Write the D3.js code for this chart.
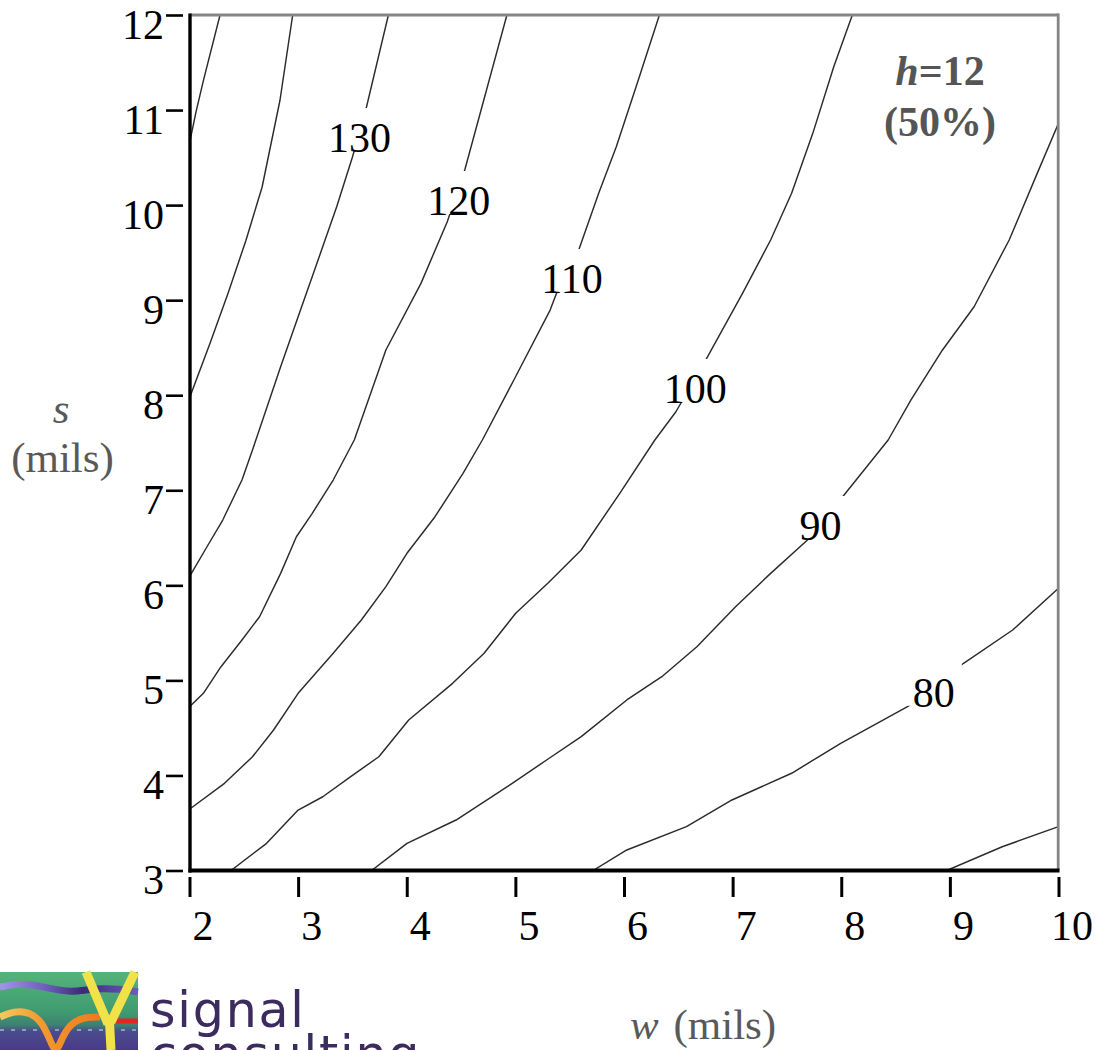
<!DOCTYPE html>
<html>
<head>
<meta charset="utf-8">
<script src="https://cdn.jsdelivr.net/npm/d3@7"></script>
<style>
  html, body { margin: 0; padding: 0; background: #fff; }
  svg { display: block; }
</style>
</head>
<body>
<svg id="chart" width="1096" height="1050"></svg>
<script>
// ---- axis ticks -------------------------------------------------------
const wTicks = [2, 3, 4, 5, 6, 7, 8, 9, 10];
const sTicks = [3, 4, 5, 6, 7, 8, 9, 10, 11, 12];

// ---- impedance contour levels (ohms) ------------------------------------
const levels = [150, 140, 130, 120, 110, 100, 90, 80, 70];

// each contour traced as [w, s] pairs in mils
const z150 = [[2.000, 10.650], [2.060, 10.980], [2.130, 11.320], [2.281, 12.000]];
const z140 = [[2.000, 7.971], [2.189, 8.547], [2.355, 9.073], [2.520, 9.630],
              [2.668, 10.188], [2.833, 11.103], [2.950, 12.000]];
const z130 = [[2.000, 6.091], [2.161, 6.406], [2.306, 6.687], [2.483, 7.108],
              [2.580, 7.424], [2.839, 8.300], [3.000, 8.826], [3.162, 9.352],
              [3.355, 9.983], [3.501, 10.509], [3.630, 11.035], [3.831, 12.000]];
const z120 = [[2.000, 4.723], [2.128, 4.864], [2.290, 5.144], [2.483, 5.425],
              [2.645, 5.670], [2.839, 6.126], [2.984, 6.511], [3.130, 6.758],
              [3.323, 7.108], [3.517, 7.529], [3.808, 8.476], [4.131, 9.177],
              [4.373, 9.825], [4.534, 10.369], [4.922, 12.000]];
const z110 = [[2.000, 3.644], [2.322, 3.917], [2.580, 4.197], [2.774, 4.478],
              [3.000, 4.864], [3.323, 5.285], [3.582, 5.635], [3.808, 5.986],
              [4.002, 6.337], [4.260, 6.722], [4.518, 7.178], [4.696, 7.529],
              [4.986, 8.160], [5.320, 8.896], [5.379, 9.072], [5.589, 9.545],
              [5.767, 10.124], [5.929, 10.614], [6.122, 11.281], [6.326, 12.000]];
const z100 = [[2.382, 3.000], [2.710, 3.286], [3.000, 3.636], [3.227, 3.776],
              [3.484, 3.987], [3.743, 4.197], [4.018, 4.583], [4.422, 4.969],
              [4.712, 5.285], [5.003, 5.706], [5.301, 6.024], [5.606, 6.372],
              [5.961, 6.968], [6.284, 7.529], [6.478, 7.826], [6.752, 8.370],
              [7.091, 9.072], [7.350, 9.633], [7.543, 10.124], [7.738, 10.755],
              [7.931, 11.456], [8.102, 12.000]];
const z90 = [[3.676, 3.000], [4.002, 3.286], [4.454, 3.531], [4.971, 3.917],
             [5.301, 4.173], [5.606, 4.408], [6.026, 4.794], [6.348, 5.039],
             [6.671, 5.354], [7.027, 5.775], [7.350, 6.126], [7.689, 6.477],
             [7.989, 6.898], [8.432, 7.529], [8.642, 7.950], [8.932, 8.476],
             [9.223, 8.931], [9.546, 9.633], [9.804, 10.334], [10.000, 10.860]];
const z80 = [[5.715, 3.000], [6.026, 3.216], [6.575, 3.461], [6.994, 3.742],
             [7.543, 4.023], [7.995, 4.338], [8.610, 4.723], [9.126, 5.180],
             [9.578, 5.530], [10.000, 5.969]];
const z70 = [[8.971, 3.000], [9.482, 3.250], [10.000, 3.461]];

const contourPaths = [z150, z140, z130, z120, z110, z100, z90, z80, z70];

// inline level labels and where they sit along their contour
const labelLevels = [130, 120, 110, 100, 90, 80];
const labelW = [3.565, 4.478, 5.522, 6.655, 7.810, 8.852];
const labelS = [10.558, 9.896, 9.075, 7.918, 6.477, 4.723];

// ---- drawing --------------------------------------------------------------
const W = 1096, H = 1050;
const serif = '"Liberation Serif", "Times New Roman", Times, serif';
const svg = d3.select('#chart');

const x = d3.scaleLinear().domain([2, 10]).range([189.5, 1058.5]);
const y = d3.scaleLinear().domain([3, 12]).range([870.5, 15]);

const defs = svg.append('defs');
defs.append('clipPath').attr('id', 'plotClip')
  .append('rect')
  .attr('x', x(2)).attr('y', y(12))
  .attr('width', x(10) - x(2)).attr('height', y(3) - y(12));

const gapMask = defs.append('mask').attr('id', 'labelGaps')
  .attr('maskUnits', 'userSpaceOnUse')
  .attr('x', 0).attr('y', 0).attr('width', W).attr('height', H);
gapMask.append('rect').attr('width', W).attr('height', H).attr('fill', 'white');

// contour lines
const line = d3.line().x(d => x(d[0])).y(d => y(d[1])).curve(d3.curveLinear);
svg.append('g')
  .attr('clip-path', 'url(#plotClip)')
  .append('g')
  .attr('mask', 'url(#labelGaps)')
  .selectAll('path')
  .data(contourPaths.map((pts, i) => ({ level: levels[i], pts })))
  .join('path')
  .attr('d', d => line(d.pts))
  .attr('fill', 'none')
  .attr('stroke', '#2b2b2b')
  .attr('stroke-width', 1.45)
  .attr('stroke-linejoin', 'round');

// level labels, with the contour broken underneath each one
const labelData = labelLevels.map((lv, i) => ({ lv, w: labelW[i], s: labelS[i] }));
const labels = svg.append('g').selectAll('text')
  .data(labelData)
  .join('text')
  .attr('x', d => x(d.w))
  .attr('y', d => y(d.s))
  .attr('text-anchor', 'middle')
  .attr('font-family', serif)
  .attr('font-size', 42)
  .attr('fill', '#000')
  .text(d => d.lv);

labels.each(function (d) {
  const len = this.getComputedTextLength();
  const cx = x(d.w), base = y(d.s);
  gapMask.append('rect')
    .attr('x', cx - len / 2 - 7)
    .attr('y', base - 44)
    .attr('width', len + 14)
    .attr('height', 43)
    .attr('fill', 'black');
});

// frame: heavy black on the axis sides, grey on the far sides
const frame = svg.append('g');
frame.append('line')
  .attr('x1', x(2)).attr('x2', x(10)).attr('y1', y(12)).attr('y2', y(12))
  .attr('stroke', '#858585').attr('stroke-width', 2.8);
frame.append('line')
  .attr('x1', x(10) - 0.3).attr('x2', x(10) - 0.3).attr('y1', y(12) - 1.4).attr('y2', y(3))
  .attr('stroke', '#858585').attr('stroke-width', 2.8);
frame.append('line')
  .attr('x1', x(2) + 0.5).attr('x2', x(2) + 0.5).attr('y1', y(12) - 1.4).attr('y2', y(3) + 2)
  .attr('stroke', '#000').attr('stroke-width', 3.4);
frame.append('line')
  .attr('x1', x(2) - 1).attr('x2', x(10) + 1).attr('y1', y(3)).attr('y2', y(3))
  .attr('stroke', '#000').attr('stroke-width', 4);

// x axis
const xAxis = svg.append('g')
  .attr('transform', 'translate(0,877)')
  .call(d3.axisBottom(x).tickValues(wTicks).tickSize(20).tickFormat(d3.format('d')));
xAxis.select('.domain').remove();
xAxis.selectAll('.tick line').attr('stroke', '#000').attr('stroke-width', 3);
xAxis.selectAll('.tick text')
  .attr('y', 63).attr('dy', 0).attr('dx', 13)
  .attr('font-family', serif).attr('font-size', 42).attr('fill', '#000');

// y axis
const yAxis = svg.append('g')
  .attr('transform', 'translate(183,0)')
  .call(d3.axisLeft(y).tickValues(sTicks).tickSize(17).tickFormat(d3.format('d')));
yAxis.select('.domain').remove();
yAxis.selectAll('.tick line').attr('stroke', '#000').attr('stroke-width', 2.6);
yAxis.selectAll('.tick text')
  .attr('x', -19).attr('y', 23).attr('dy', 0)
  .attr('text-anchor', 'end')
  .attr('font-family', serif).attr('font-size', 42).attr('fill', '#000');

// axis titles
const titleGrey = '#595959';
svg.append('text')
  .attr('x', 61).attr('y', 422.5)
  .attr('text-anchor', 'middle')
  .attr('font-family', serif).attr('font-size', 43).attr('font-style', 'italic')
  .attr('fill', titleGrey).text('s');
svg.append('text')
  .attr('x', 62.5).attr('y', 471.5)
  .attr('text-anchor', 'middle')
  .attr('font-family', serif).attr('font-size', 43)
  .attr('fill', titleGrey).text('(mils)');

const wTitle = svg.append('text')
  .attr('x', 630).attr('y', 1039)
  .attr('font-family', serif).attr('font-size', 43)
  .attr('fill', titleGrey);
wTitle.append('tspan').attr('font-style', 'italic').text('w');
wTitle.append('tspan').attr('dx', 4).text(' (mils)');

// stack height note
const note = svg.append('g')
  .attr('font-family', serif).attr('font-size', 42).attr('font-weight', 'bold')
  .attr('fill', '#555').attr('text-anchor', 'middle');
const hLine = note.append('text').attr('x', 940).attr('y', 85);
hLine.append('tspan').attr('font-style', 'italic').text('h');
hLine.append('tspan').text('=12');
note.append('text').attr('x', 940).attr('y', 136).text('(50%)');

// company logo
const logo = svg.append('g').attr('transform', 'translate(0,972)');
const bg = defs.append('linearGradient').attr('id', 'logoBg')
  .attr('x1', 0).attr('x2', 0).attr('y1', 0).attr('y2', 1);
[[0, '#55b37b'], [0.5, '#409c70'], [0.68, '#3d8173'], [0.76, '#4a4c8e'], [1, '#4a3a88']]
  .forEach(([o, c]) => bg.append('stop').attr('offset', o).attr('stop-color', c));
const wave = defs.append('linearGradient').attr('id', 'logoWave')
  .attr('gradientUnits', 'userSpaceOnUse').attr('x1', 0).attr('x2', 138).attr('y1', 0).attr('y2', 0);
[[0, '#a196e6'], [0.35, '#6a5bb8'], [0.6, '#3b2a78'], [1, '#6b5cc0']]
  .forEach(([o, c]) => wave.append('stop').attr('offset', o).attr('stop-color', c));
const orange = defs.append('linearGradient').attr('id', 'logoOrange')
  .attr('gradientUnits', 'userSpaceOnUse').attr('x1', 0).attr('x2', 100).attr('y1', 0).attr('y2', 0);
[[0, '#f7c860'], [0.4, '#f29a30'], [1, '#ee7a1c']]
  .forEach(([o, c]) => orange.append('stop').attr('offset', o).attr('stop-color', c));

logo.append('rect').attr('width', 138).attr('height', 78).attr('fill', 'url(#logoBg)');
const smooth = d3.line().curve(d3.curveBasis);
logo.append('path')
  .attr('d', smooth([[0, 15], [20, 11], [45, 15], [70, 21], [95, 16], [120, 17], [138, 20]]))
  .attr('fill', 'none').attr('stroke', 'url(#logoWave)').attr('stroke-width', 7);
logo.append('line').attr('x1', 0).attr('x2', 138).attr('y1', 58).attr('y2', 58)
  .attr('stroke', '#c9c9dc').attr('stroke-width', 1.6).attr('stroke-dasharray', '4 7')
  .attr('opacity', 0.8);
logo.append('path')
  .attr('d', smooth([[0, 45], [14, 39], [30, 40], [42, 50], [50, 68], [56, 82],
                     [62, 66], [70, 52], [84, 45], [100, 45]]))
  .attr('fill', 'none').attr('stroke', 'url(#logoOrange)').attr('stroke-width', 7);
logo.append('line').attr('x1', 114).attr('x2', 138).attr('y1', 49).attr('y2', 49)
  .attr('stroke', '#e52620').attr('stroke-width', 5);
const yellow = '#f2e24a';
logo.append('path')
  .attr('d', 'M86,0 L108,52 M135,0 L111,50 M109.5,50 L111,78')
  .attr('fill', 'none').attr('stroke', yellow).attr('stroke-width', 9)
  .attr('stroke-linejoin', 'round');

svg.append('text')
  .attr('x', 150).attr('y', 1026.5)
  .attr('font-family', '"DejaVu Sans", sans-serif').attr('font-size', 49)
  .attr('letter-spacing', 1.8).attr('fill', '#3c2b5e').text('signal');
svg.append('text')
  .attr('x', 150).attr('y', 1071)
  .attr('font-family', '"DejaVu Sans", sans-serif').attr('font-size', 49)
  .attr('letter-spacing', 1.8).attr('fill', '#3c2b5e').text('consulting');
</script>
</body>
</html>
